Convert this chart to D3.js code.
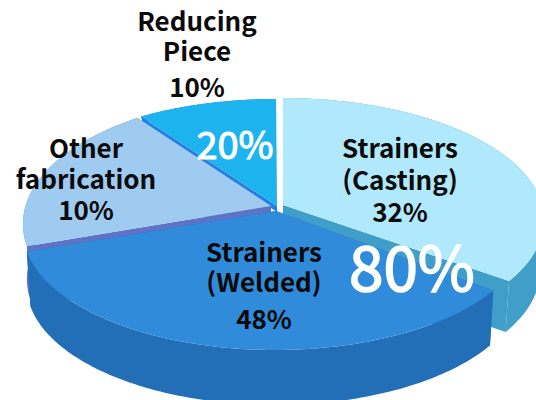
<!DOCTYPE html>
<html>
<head>
<meta charset="utf-8">
<script src="https://cdn.jsdelivr.net/npm/d3@7"></script>
<style>
  html, body { margin: 0; padding: 0; background: #fff; }
  text { font-family: "Noto Sans CJK KR", "Noto Sans", sans-serif; text-anchor: middle; }
</style>
</head>
<body>
<div id="chart"></div>
<script>
// The labels say 32/48/10/10 but the slices in the picture are not drawn to that,
// so the slice sizes are the arcs (degrees)
const categories = ['Strainers (Casting)', 'Strainers (Welded)', 'Other fabrication', 'Reducing Piece'];
const drawnArcs = [120, 140, 66, 34];
const labelLines = [['Strainers', '(Casting)'], ['Strainers', '(Welded)'], ['Other', 'fabrication'], ['Reducing', 'Piece']];
const labelPercents = ['32%', '48%', '10%', '10%'];
const summaryLabels = ['80%', '20%'];

const width = 536, height = 400;

const topColors = ['#b0e9fc', '#308cdb', '#9fcbf1', '#1cb3ee'];
const wallColors = ['#3f9fc8', '#226fb8', '#5f73c6', '#2181e0'];

// each slice is its own ellipse, the slices were pulled apart by hand in the original
const shapes = [
  { cx: 283, cy: 220, rx: 261, ry: 122, ax: 283, ay: 205, depth: 51, trim: 0 },
  { cx: 275, cy: 231, rx: 252, ry: 119, ax: 276, ay: 211, depth: 55, trim: 0 },
  { cx: 283, cy: 224, rx: 260, ry: 128, ax: 271, ay: 206, depth: 55, trim: 0 },
  { cx: 276, cy: 221, rx: 261, ry: 122, ax: 277, ay: 206, depth: 6, trim: 0.05 }
];
const bottomScale = 0.985;

const svg = d3.select('#chart')
  .append('svg')
  .attr('width', width)
  .attr('height', height)
  .style('display', 'block');

const arcs = d3.pie().sort(null).value(d => d)(drawnArcs);
const line = d3.line();

const topPoint = (s, a) => [s.cx + s.rx * Math.sin(a), s.cy - s.ry * Math.cos(a)];
const lowPoint = (s, p) => [s.cx + (p[0] - s.cx) * bottomScale, p[1] + s.depth];

// draw order: back slices first, the big front slice last
[0, 3, 2, 1].forEach(i => {
  const s = shapes[i];
  const start = arcs[i].startAngle + s.trim;
  const end = arcs[i].endAngle;
  const rim = d3.range(0, 121).map(k => topPoint(s, start + (end - start) * k / 120));
  const apex = [s.ax, s.ay];
  const g = svg.append('g').attr('class', 'slice').datum(categories[i]);

  // cut faces
  [rim[0], rim[rim.length - 1]].forEach(p => {
    g.append('path')
      .attr('d', line([apex, p, lowPoint(s, p), lowPoint(s, apex)]) + 'Z')
      .attr('fill', wallColors[i]);
  });
  // outer wall
  g.append('path')
    .attr('d', line(rim.concat(rim.map(p => lowPoint(s, p)).reverse())) + 'Z')
    .attr('fill', wallColors[i]);
  // top face
  g.append('path')
    .attr('d', line([apex].concat(rim)) + 'Z')
    .attr('fill', topColors[i]);
});

function addLabel(i, x, ys) {
  const rows = labelLines[i].concat(labelPercents[i]);
  rows.forEach((t, k) => {
    svg.append('text')
      .attr('x', x)
      .attr('y', ys[k])
      .attr('font-size', 26)
      .attr('font-weight', 700)
      .attr('fill', '#0a0a0a')
      .text(t);
  });
}

addLabel(3, 197, [31, 61, 97]);
addLabel(2, 86, [158, 189, 220]);
addLabel(0, 400, [158, 190, 222]);
addLabel(1, 264, [262, 292, 329]);

// the big numbers are a bit heavier than the regular weight, thin stroke gets there
svg.append('text').attr('x', 412).attr('y', 291)
  .attr('font-size', 62).attr('font-weight', 400).attr('fill', '#fff')
  .attr('stroke', '#fff').attr('stroke-width', 1.6).text(summaryLabels[0]);
svg.append('text').attr('x', 235).attr('y', 159)
  .attr('font-size', 38).attr('font-weight', 400).attr('fill', '#fff')
  .attr('stroke', '#fff').attr('stroke-width', 1).text(summaryLabels[1]);
</script>
</body>
</html>
